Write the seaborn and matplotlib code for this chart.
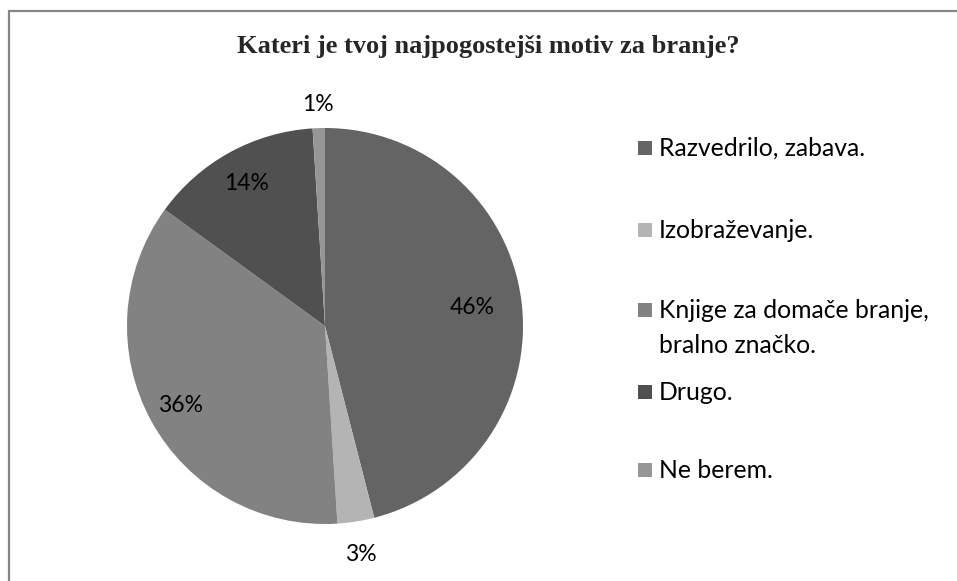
import matplotlib
matplotlib.use("Agg")
import matplotlib.pyplot as plt
import seaborn as sns
import numpy as np
from matplotlib.patches import Rectangle
from matplotlib.lines import Line2D

categories = ["Razvedrilo, zabava.", "Izobraževanje.",
              "Knjige za domače branje,\nbralno značko.", "Drugo.", "Ne berem."]
values = [46, 3, 36, 14, 1]
pct_labels = ["46%", "3%", "36%", "14%", "1%"]
colors = ["#646464", "#b4b4b4", "#828282", "#505050", "#969696"]
title = "Kateri je tvoj najpogostejši motiv za branje?"

sns.set_theme(style="white")
plt.rcParams["font.family"] = ["Lato", "DejaVu Sans"]

W, H = 957, 581
fig = plt.figure(figsize=(W / 100, H / 100), dpi=100)
fig.patch.set_facecolor("white")

# border (left and top visible)
fig.add_artist(Line2D([8.5 / W, 8.5 / W], [0, 1 - 10.5 / H], transform=fig.transFigure,
                      color="#868686", lw=1.6))
fig.add_artist(Line2D([8.5 / W, 1], [1 - 10.5 / H, 1 - 10.5 / H], transform=fig.transFigure,
                      color="#868686", lw=1.6))

cx, cy, r = 325, 326, 198
ax = fig.add_axes([(cx - r) / W, (H - cy - r) / H, 2 * r / W, 2 * r / H])
wedges, _ = ax.pie(values, colors=colors, startangle=90, counterclock=False,
                   radius=1, wedgeprops=dict(linewidth=0))
ax.set_xlim(-1, 1)
ax.set_ylim(-1, 1)
ax.axis("off")

label_dist = [0.75, 1.17, 0.83, 0.82, 1.12]
for w, lab, d in zip(wedges, pct_labels, label_dist):
    ang = np.deg2rad((w.theta1 + w.theta2) / 2)
    ax.text(d * np.cos(ang), d * np.sin(ang), lab, ha="center", va="center",
            fontsize=16.5, color="black")

fig.text(488 / W, 1 - 47 / H, title, ha="center", va="center",
         fontsize=19, fontweight="bold", family=["Liberation Serif", "DejaVu Serif"])

# legend
leg_y = [148, 230, 310, 392, 470]
for lab, col, y in zip(categories, colors, leg_y):
    fig.add_artist(Rectangle((638 / W, 1 - (y + 7) / H), 14 / W, 14 / H,
                             transform=fig.transFigure, facecolor=col, edgecolor="none"))
    fig.text(659 / W, 1 - (y - 11) / H, lab, ha="left", va="top", fontsize=17.8,
             color="black", linespacing=1.62)

fig.savefig("out.png", dpi=100, facecolor="white")
